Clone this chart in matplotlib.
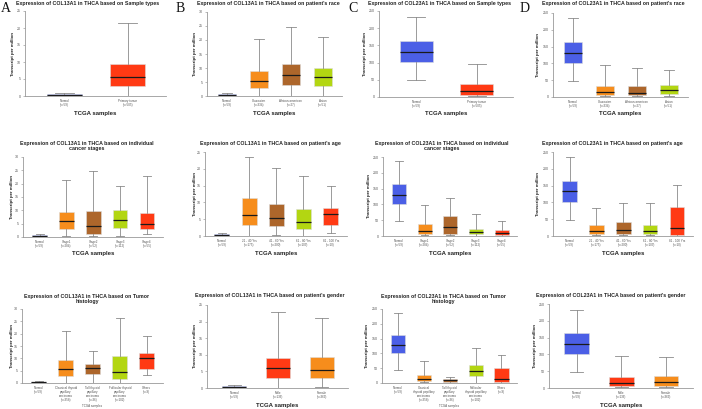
"""UALCAN-style expression box plots: COL13A1 / COL23A1 in THCA (12 panels)."""
import matplotlib
matplotlib.use("Agg")
import matplotlib.pyplot as plt

W, H = 702, 409

# colours used by the portal
BLUE = "#4b5fe6"
RED = "#ff3a14"
ORANGE = "#f68d1c"
BROWN = "#ad662b"
LIME = "#b3d612"

# ---- data: [whislo, q1, median, q3, whishi] per group ----
TYPE_LABELS = ["Normal\n(n=59)", "Primary tumor\n(n=505)"]
RACE_LABELS = ["Normal\n(n=59)", "Caucasian\n(n=334)", "African-american\n(n=27)", "Asian\n(n=51)"]
STAGE_LABELS = ["Normal\n(n=59)", "Stage1\n(n=284)", "Stage2\n(n=52)", "Stage3\n(n=112)", "Stage4\n(n=55)"]
AGE_LABELS = ["Normal\n(n=59)", "21 - 40 Yrs\n(n=175)", "41 - 60 Yrs\n(n=200)",
              "61 - 80 Yrs\n(n=103)", "81 - 100 Yrs\n(n=10)"]
HIST_LABELS_13 = ["Normal\n(n=59)", "Classical thyroid\npapillary\ncarcinoma\n(n=358)",
                  "Tall thyroid\npapillary\ncarcinoma\n(n=36)",
                  "Follicular thyroid\npapillary\ncarcinoma\n(n=102)", "Others\n(n=9)"]
HIST_LABELS_23 = ["Normal\n(n=59)", "Classical\nthyroid papillary\ncarcinoma\n(n=358)",
                  "Tall thyroid\npapillary\ncarcinoma\n(n=36)",
                  "Follicular\nthyroid papillary\ncarcinoma\n(n=102)", "Others\n(n=9)"]
GENDER_LABELS = ["Normal\n(n=59)", "Male\n(n=136)", "Female\n(n=369)"]

COL13_TYPE = [[0, 0.1, 0.3, 0.5, 1.0], [0, 3.0, 5.5, 9.3, 21.5]]
COL13_RACE = [[0, 0.2, 0.4, 0.6, 1.0], [0, 3.0, 5.3, 9.0, 20.2],
              [0, 3.8, 7.5, 11.5, 24.8], [0, 3.5, 6.8, 10.0, 21.0]]
COL23_TYPE = [[48, 101, 132, 163, 234], [2, 5, 17, 37, 95]]
COL23_RACE = [[48, 101, 132, 163, 234], [2, 5, 15, 33, 94],
              [2, 5, 12, 33, 86], [4, 8, 20, 35, 79]]

COL13_STAGE = [[0, 0.2, 0.4, 0.6, 1.0], [0.2, 3.0, 6.0, 9.2, 21.2],
               [0.3, 1.1, 4.0, 9.6, 24.6], [0.2, 3.5, 6.2, 10.2, 19.1],
               [1.2, 3.0, 4.7, 9.1, 22.9]]
COL13_AGE = [[0, 0.2, 0.4, 0.6, 1.0], [0, 3.2, 6.3, 11.2, 23.6],
             [0.2, 2.9, 5.5, 9.4, 20.2], [0, 2.2, 4.3, 8.0, 18.0],
             [1.0, 3.2, 6.4, 8.3, 15.0]]
COL23_STAGE = [[46, 100, 131, 163, 236], [2, 6, 17, 39, 97],
               [2, 7, 27, 62, 120], [1, 5, 13, 23, 70], [1, 3, 8, 19, 46]]
COL23_AGE = [[48, 101, 133, 163, 234], [2, 6, 14, 34, 84],
             [2, 6, 19, 42, 97], [2, 5, 16, 34, 97], [1, 2, 23, 87, 152]]

COL13_HIST = [[0, 0.2, 0.4, 0.6, 1.0], [0, 3.0, 5.5, 9.4, 21.1],
              [0.2, 3.8, 5.9, 7.9, 13.0], [0, 1.6, 4.6, 10.9, 26.3],
              [3.1, 5.5, 10.0, 12.0, 19.1]]
COL13_GENDER = [[0, 0.2, 0.4, 0.6, 1.0], [0, 3.0, 5.9, 9.0, 23.0],
                [0.2, 2.9, 5.3, 9.3, 21.0]]
COL23_HIST = [[45, 100, 130, 162, 236], [2, 6, 15, 26, 75], [1, 3, 9, 14, 20],
              [1, 23, 42, 62, 119], [1, 3, 15, 50, 95]]
COL23_GENDER = [[48, 101, 132, 164, 233], [2, 5, 14, 33, 96],
                [2, 7, 19, 36, 92]]

TYPE_COLORS = [BLUE, RED]
RACE_COLORS = [BLUE, ORANGE, BROWN, LIME]
FIVE_COLORS = [BLUE, ORANGE, BROWN, LIME, RED]
GENDER_COLORS = [BLUE, RED, ORANGE]

# panel layout in pixels: axes box (x0, ytop, x1, ybottom), title centre, ylabel x, xlabel y
PANELS = [
    # row 1
    dict(box=(25, 11, 166, 96), title="Expression of COL13A1 in THCA based on Sample types",
         tc=(88, 4), ylx=13, xly=113, labels=TYPE_LABELS, stats=COL13_TYPE,
         colors=TYPE_COLORS, ymax=25, step=5),
    dict(box=(207, 12, 342, 96), title="Expression of COL13A1 in THCA based on patient's race",
         tc=(268, 4), ylx=195, xly=113, labels=RACE_LABELS, stats=COL13_RACE,
         colors=RACE_COLORS, ymax=30, step=5),
    dict(box=(379, 11, 513, 97), title="Expression of COL23A1 in THCA based on Sample types",
         tc=(440, 4), ylx=365, xly=113, labels=TYPE_LABELS, stats=COL23_TYPE,
         colors=TYPE_COLORS, ymax=250, step=50),
    dict(box=(553, 13, 688, 97), title="Expression of COL23A1 in THCA based on patient's race",
         tc=(613, 4), ylx=538, xly=114, labels=RACE_LABELS, stats=COL23_RACE,
         colors=RACE_COLORS, ymax=250, step=50),
    # row 2
    dict(box=(23, 157, 163, 237),
         title="Expression of COL13A1 in THCA based on individual\ncancer stages",
         tc=(87, 146), ylx=12, xly=253, labels=STAGE_LABELS, stats=COL13_STAGE,
         colors=FIVE_COLORS, ymax=30, step=5),
    dict(box=(205, 152, 347, 236), title="Expression of COL13A1 in THCA based on patient's age",
         tc=(270, 144), ylx=195, xly=253, labels=AGE_LABELS, stats=COL13_AGE,
         colors=FIVE_COLORS, ymax=25, step=5),
    dict(box=(383, 157, 517, 236),
         title="Expression of COL23A1 in THCA based on individual\ncancer stages",
         tc=(442, 146), ylx=369, xly=253, labels=STAGE_LABELS, stats=COL23_STAGE,
         colors=FIVE_COLORS, ymax=250, step=50),
    dict(box=(553, 152, 693, 236), title="Expression of COL23A1 in THCA based on patient's age",
         tc=(612, 143), ylx=538, xly=253, labels=AGE_LABELS, stats=COL23_AGE,
         colors=FIVE_COLORS, ymax=250, step=50),
    # row 3
    dict(box=(22, 309, 163, 383),
         title="Expression of COL13A1 in THCA based on Tumor\nhistology",
         tc=(87, 299), ylx=12, xly=406, labels=HIST_LABELS_13, stats=COL13_HIST,
         colors=FIVE_COLORS, ymax=30, step=5, small_xlabel=True),
    dict(box=(207, 305, 348, 388), title="Expression of COL13A1 in THCA based on patient's gender",
         tc=(270, 295), ylx=195, xly=405, labels=GENDER_LABELS, stats=COL13_GENDER,
         colors=GENDER_COLORS, ymax=25, step=5),
    dict(box=(382, 309, 517, 383),
         title="Expression of COL23A1 in THCA based on Tumor\nhistology",
         tc=(443, 299), ylx=367, xly=406, labels=HIST_LABELS_23, stats=COL23_HIST,
         colors=FIVE_COLORS, ymax=250, step=50, small_xlabel=True),
    dict(box=(549, 304, 693, 388), title="Expression of COL23A1 in THCA based on patient's gender",
         tc=(611, 295), ylx=535, xly=405, labels=GENDER_LABELS, stats=COL23_GENDER,
         colors=GENDER_COLORS, ymax=250, step=50),
]

LETTERS = [("A", 1), ("B", 176), ("C", 348), ("D", 520)]

plt.rcParams["font.family"] = ["Liberation Sans", "DejaVu Sans"]


def draw_panel(fig, p):
    x0, y0, x1, y1 = p["box"]
    ax = fig.add_axes([x0 / W, 1 - y1 / H, (x1 - x0) / W, (y1 - y0) / H])
    n = len(p["stats"])
    stats = [dict(whislo=s[0], q1=s[1], med=s[2], q3=s[3], whishi=s[4], fliers=[])
             for s in p["stats"]]
    pos = list(range(1, n + 1))
    arts = ax.bxp(stats, positions=pos, widths=0.55, capwidths=0.3,
                  patch_artist=True, showfliers=False, manage_ticks=False,
                  whiskerprops=dict(color="#8a8a8a", lw=0.6),
                  capprops=dict(color="#8a8a8a", lw=0.6),
                  medianprops=dict(color="#1a1a1a", lw=0.9),
                  boxprops=dict(lw=0.4))
    for patch, c in zip(arts["boxes"], p["colors"]):
        patch.set_facecolor(c)
        patch.set_edgecolor("#dddddd")

    ax.set_xlim(0.38, n + 0.6)
    ax.set_ylim(0, p["ymax"])
    ax.set_yticks(range(0, p["ymax"] + 1, p["step"]))
    ax.set_xticks(pos)
    ax.set_xticklabels(p["labels"], fontsize=2.2, color="#555555", linespacing=1.0)
    ax.tick_params(axis="x", length=0, pad=2.5)
    ax.tick_params(axis="y", labelsize=2.6, labelcolor="#555555", length=1.5,
                   width=0.4, color="#888888", pad=1.5)
    for side in ("top", "right"):
        ax.spines[side].set_visible(False)
    for side in ("left", "bottom"):
        ax.spines[side].set_color("#999999")
        ax.spines[side].set_linewidth(0.6)

    fig.text(p["tc"][0] / W, 1 - p["tc"][1] / H, p["title"], ha="center", va="center",
             fontsize=3.8, fontweight="bold", color="#222222", linespacing=1.15)
    fig.text(p["ylx"] / W, 1 - (y0 + y1) / 2 / H, "Transcript per million",
             rotation=90, ha="center", va="center", fontsize=3.2,
             fontweight="bold", color="#222222")
    xc = (x0 + x1) / 2 / W
    if p.get("small_xlabel"):
        fig.text(xc, 1 - p["xly"] / H, "TCGA samples", ha="center", va="center",
                 fontsize=2.2, color="#555555")
    else:
        fig.text(xc, 1 - p["xly"] / H, "TCGA samples", ha="center", va="center",
                 fontsize=4.3, fontweight="bold", color="#222222")


fig = plt.figure(figsize=(W / 100, H / 100), dpi=100)
fig.patch.set_facecolor("white")
for p in PANELS:
    draw_panel(fig, p)
for letter, lx in LETTERS:
    fig.text(lx / W, 1 - 2 / H, letter, ha="left", va="top", fontsize=10,
             family=["Liberation Serif", "DejaVu Serif"], color="#111111")

fig.savefig("out.png", dpi=100)
